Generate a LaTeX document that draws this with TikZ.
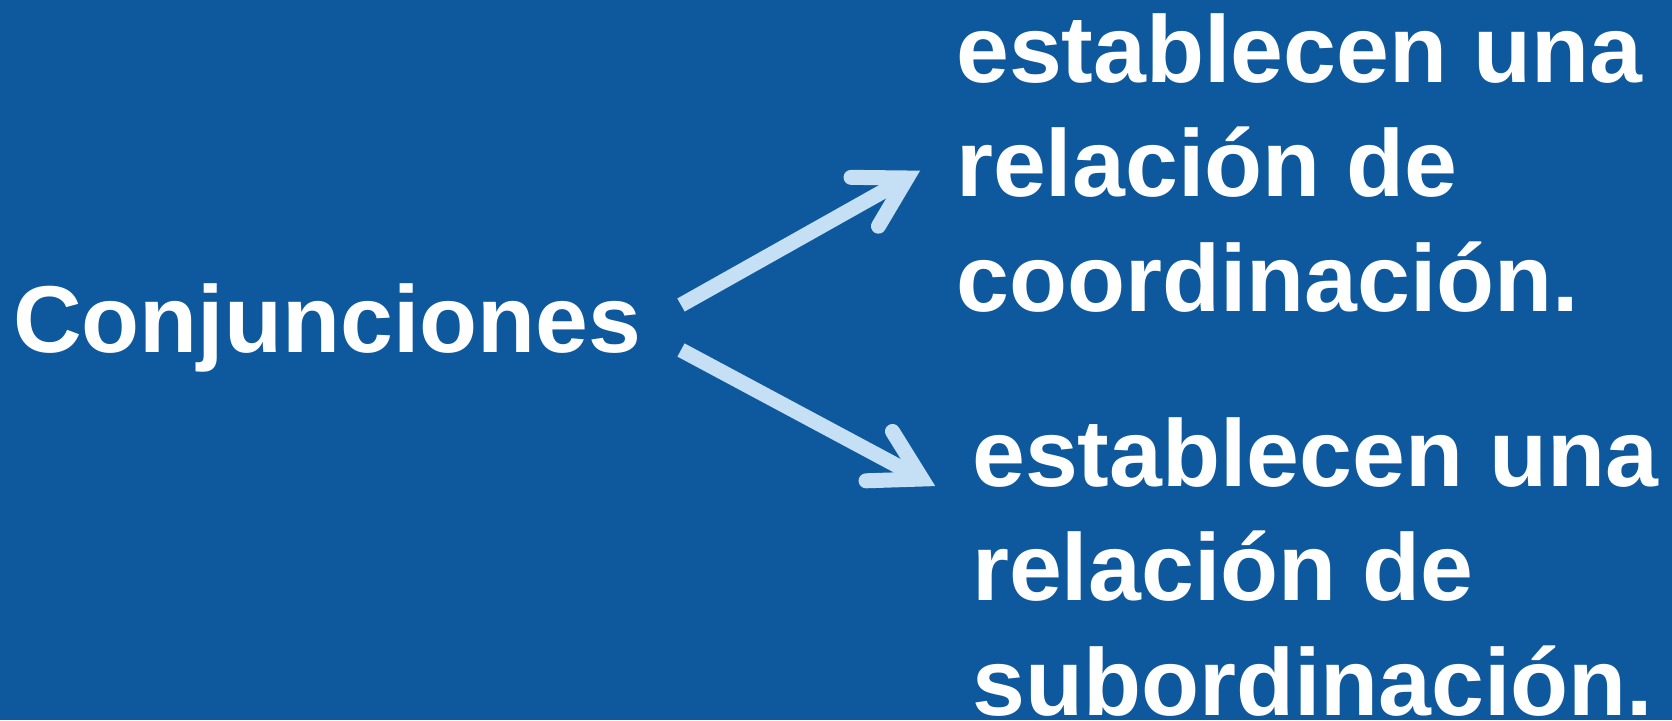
\documentclass[tikz,border=0pt]{standalone}
\usepackage{fontspec}
\setmainfont{Liberation Sans}
\usetikzlibrary{calc}
\definecolor{bgblue}{RGB}{14,89,158}
\definecolor{arrowblue}{RGB}{197,224,244}
\tikzset{
  bigtext/.style={text=white, inner sep=0pt, font=\bfseries\fontsize{95}{114.5}\selectfont},
  shaft/.style={draw=arrowblue, line width=15pt, line cap=butt},
  barb/.style={draw=arrowblue, line width=15pt, line cap=round, line join=miter, miter limit=10}
}
\begin{document}
\begin{tikzpicture}[x=1pt,y=-1pt]
\fill[bgblue] (0,0) rectangle (1672,720);
\useasboundingbox (0,0) rectangle (1672,720);

\node[bigtext, anchor=base west] (conj) at (13,352) {Conjunciones};
\node[bigtext, anchor=north west, align=left] (coord) at (956,13) {establecen una\\relación de\\coordinación.};
\node[bigtext, anchor=north west, align=left] (subord) at (972,417) {establecen una\\relación de\\subordinación.};

\coordinate (t1) at (681,305);
\coordinate (h1) at (907,178);
\coordinate (t2) at (681,350);
\coordinate (h2) at (922,479);

\draw[shaft] (t1) -- (h1);
\draw[barb] ($(h1)!56pt!30:(t1)$) -- (h1) -- ($(h1)!56pt!-30:(t1)$);
\draw[shaft] (t2) -- (h2);
\draw[barb] ($(h2)!56pt!30:(t2)$) -- (h2) -- ($(h2)!56pt!-30:(t2)$);
\end{tikzpicture}
\end{document}
